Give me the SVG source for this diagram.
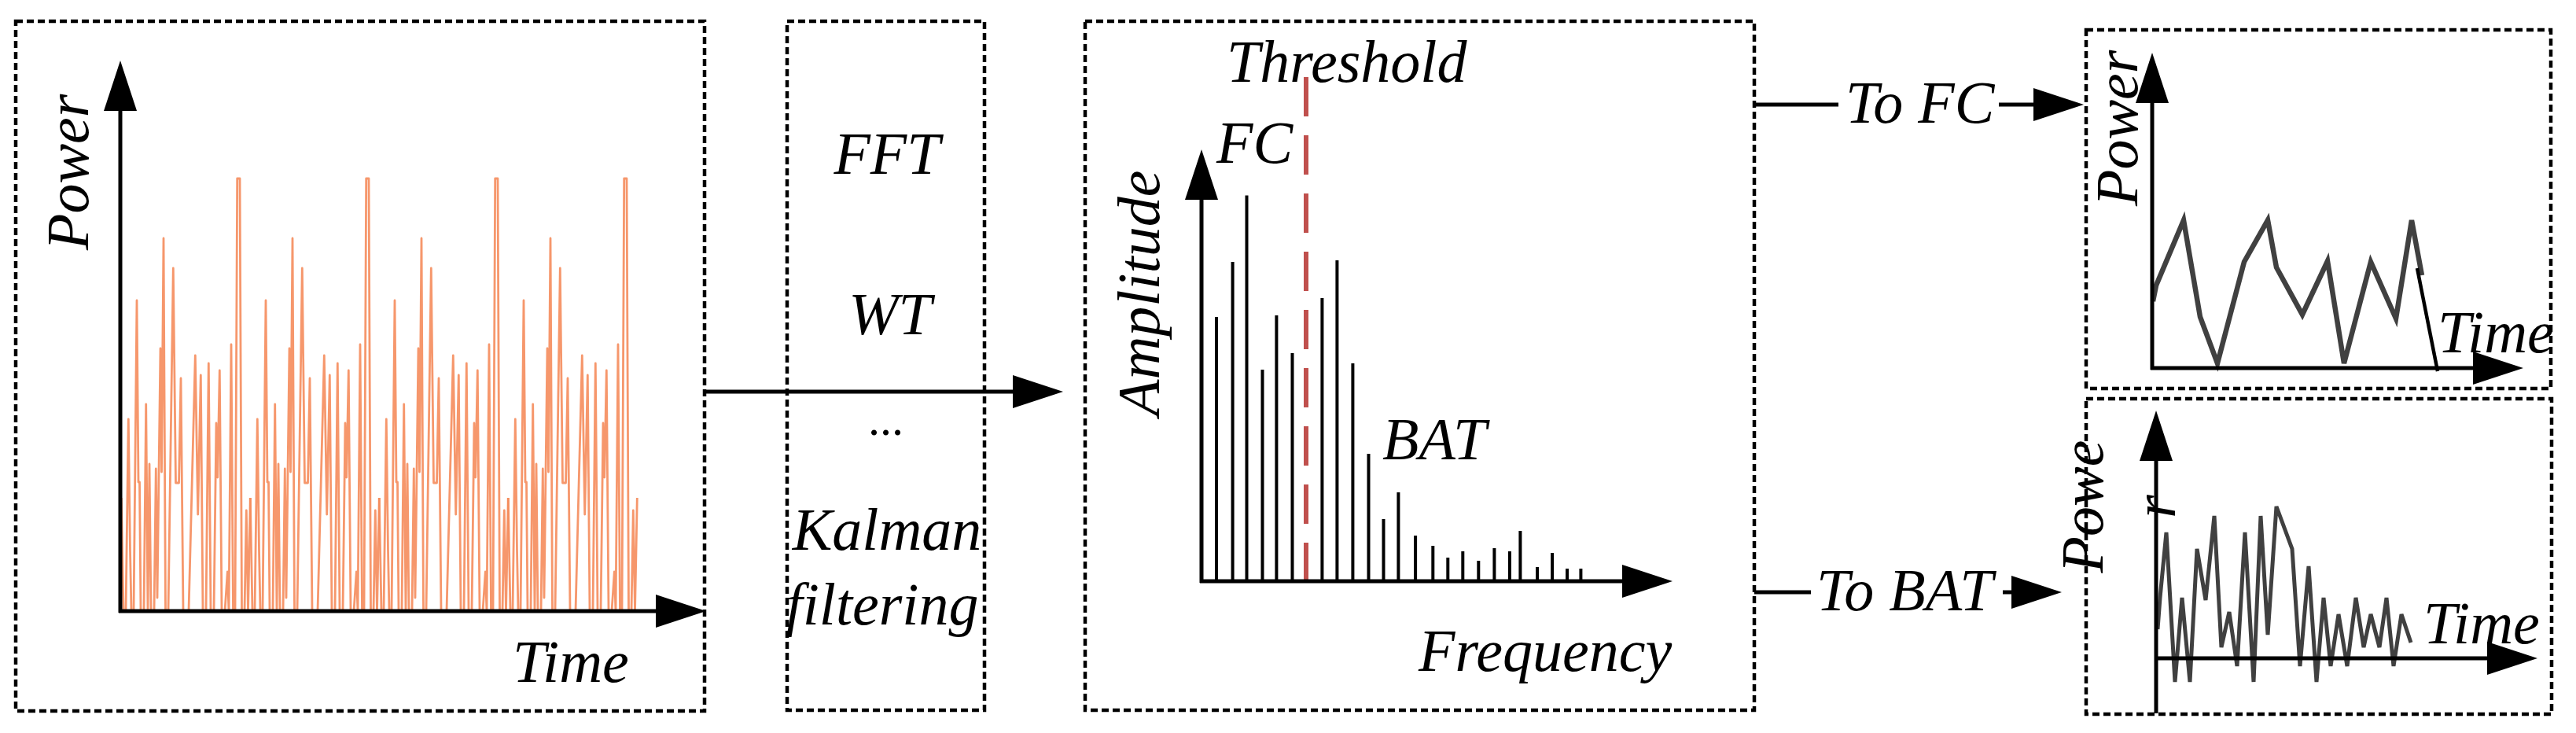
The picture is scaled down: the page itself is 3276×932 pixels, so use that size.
<svg xmlns="http://www.w3.org/2000/svg" xmlns:xlink="http://www.w3.org/1999/xlink" width="3276" height="932" viewBox="0 0 3276 932">
<style>
.box{fill:none;stroke:#000;stroke-width:4.5;stroke-dasharray:9 5}
.ax{fill:none;stroke:#000;stroke-width:5;marker-end:url(#ah)}
.ln{fill:none;stroke:#000;stroke-width:5}
.lbl{font-family:"Liberation Serif","Times New Roman",serif;font-style:italic;font-size:76px;fill:#000}
.sig{fill:none;stroke:#F58C5C;stroke-width:2.8;stroke-linejoin:round;stroke-opacity:0.9}
.gray{fill:none;stroke:#404040;stroke-width:6.5;stroke-linejoin:miter}
.bar{stroke:#000;stroke-width:4}
</style>
<defs>
<marker id="ah" markerUnits="userSpaceOnUse" markerWidth="66" markerHeight="44" refX="0" refY="22" orient="auto" viewBox="0 0 66 44" overflow="visible">
<path d="M0,1 L64,22 L0,43 z" fill="#000"/>
</marker>
<polyline id="period" class="sig" points="154.3,633 157,777 160,777 163.3,533 165.5,700 167,777 170,777 174,382 176,613 177.5,613 179,777 183,777 185.7,514 188,777 190,590 192,777 196,777 198.3,596 200,760 204,443 205.5,600 208,303 210.5,777 214,777 220.3,341 223.5,614 227.5,614 230,481 233,777 240,777 248.3,452 251.7,654 255.3,477 258,777 262,777 265.3,462 268,777 272,777 275,538 276.7,607 279.3,471 282,777 286,777 289.3,727 291,777 294,438 296.5,777 299,777 301.7,227 305,227 307.5,777 311,777 313.3,649 315.5,777 318.3,633"/>
</defs>

<g id="signal-box">
<rect class="box" x="20" y="27" width="876" height="877"/>
<use xlink:href="#period"/>
<use xlink:href="#period" transform="translate(164,0)"/>
<use xlink:href="#period" transform="translate(328,0)"/>
<use xlink:href="#period" transform="translate(492,0)"/>
<path class="ax" d="M153,779 V141"/>
<path class="ax" d="M151,777 H834"/>
<text class="lbl" transform="translate(112,318) rotate(-90)">Power</text>
<text class="lbl" x="652" y="867">Time</text>
</g>

<g id="methods-box">
<rect class="box" x="1001" y="27" width="251" height="876"/>
<text class="lbl" x="1128" y="221" text-anchor="middle">FFT</text>
<text class="lbl" x="1132" y="425" text-anchor="middle">WT</text>
<text class="lbl" x="1128" y="553" text-anchor="middle" style="font-size:60px">...</text>
<text class="lbl" x="1128" y="699" text-anchor="middle">Kalman</text>
<text class="lbl" x="1122" y="794" text-anchor="middle">filtering</text>
</g>

<g id="spectrum-box">
<rect class="box" x="1380" y="27" width="851" height="876"/>
<g class="bar">
<line x1="1547" y1="739" x2="1547" y2="403"/>
<line x1="1567.6" y1="739" x2="1567.6" y2="333"/>
<line x1="1585.5" y1="739" x2="1585.5" y2="248.5"/>
<line x1="1605.5" y1="739" x2="1605.5" y2="470"/>
<line x1="1623.4" y1="739" x2="1623.4" y2="401"/>
<line x1="1643.5" y1="739" x2="1643.5" y2="449"/>
<line x1="1660.8" y1="739" x2="1660.8" y2="696"/>
<line x1="1681.4" y1="739" x2="1681.4" y2="379"/>
<line x1="1700.4" y1="739" x2="1700.4" y2="331"/>
<line x1="1720.4" y1="739" x2="1720.4" y2="462"/>
<line x1="1740.5" y1="739" x2="1740.5" y2="577"/>
<line x1="1759.5" y1="739" x2="1759.5" y2="660"/>
<line x1="1778.4" y1="739" x2="1778.4" y2="626"/>
<line x1="1800.1" y1="739" x2="1800.1" y2="681"/>
<line x1="1822.3" y1="739" x2="1822.3" y2="694"/>
<line x1="1841.3" y1="739" x2="1841.3" y2="709"/>
<line x1="1860.3" y1="739" x2="1860.3" y2="701"/>
<line x1="1880.3" y1="739" x2="1880.3" y2="713"/>
<line x1="1900.4" y1="739" x2="1900.4" y2="697"/>
<line x1="1919.9" y1="739" x2="1919.9" y2="701"/>
<line x1="1933.4" y1="739" x2="1933.4" y2="675"/>
<line x1="1955.1" y1="739" x2="1955.1" y2="721"/>
<line x1="1974.1" y1="739" x2="1974.1" y2="703"/>
<line x1="1993" y1="739" x2="1993" y2="723"/>
<line x1="2010.4" y1="739" x2="2010.4" y2="723"/>
</g>
<line x1="1661" y1="98" x2="1661" y2="742" stroke="#C0504D" stroke-width="6" stroke-dasharray="50 24"/>
<path class="ax" d="M1528,741 V254"/>
<path class="ax" d="M1526,739 H2063"/>
<text class="lbl" x="1560" y="104">Threshold</text>
<text class="lbl" x="1547" y="207">FC</text>
<text class="lbl" x="1758" y="584">BAT</text>
<text class="lbl" transform="translate(1474,529) rotate(-90)">Amplitude</text>
<text class="lbl" x="1804" y="853">Frequency</text>
</g>

<g id="fc-box">
<rect class="box" x="2653" y="38" width="591" height="456"/>
<polyline class="gray" points="2738,383 2742,363 2777,280 2798,403 2820,462 2854,333 2884,280 2895,340 2928,400 2960,332 2981,462 3015,333 3047,405 3067,280 3080,350"/>
<line x1="3074" y1="341" x2="3100" y2="472" stroke="#000" stroke-width="4.5"/>
<path class="ax" d="M2737,470 V131"/>
<path class="ax" d="M2735,468 H3145"/>
<text class="lbl" transform="translate(2718,262) rotate(-90)">Power</text>
<text class="lbl" x="3100" y="448">Time</text>
</g>

<g id="bat-box">
<rect class="box" x="2653" y="507" width="592" height="401"/>
<polyline class="gray" style="stroke-width:5" points="2744,800 2747,760 2755,677 2766,867 2775,760 2785,867 2794,698 2805,763 2816,656 2825,823 2835,778 2845,847 2855,677 2866,867 2875,656 2884,807 2895,644 2915,698 2925,847 2936,720 2946,867 2955,760 2964,847 2974,781 2985,847 2996,760 3006,823 3015,781 3026,823 3035,760 3044,847 3054,781 3066,817"/>
<path class="ax" d="M2742,907 V586"/>
<path class="ax" d="M2740,837 H3163"/>
<text class="lbl" transform="translate(2674,644) rotate(-90)" text-anchor="middle">Powe</text>
<text class="lbl" transform="translate(2766,644) rotate(-90)" text-anchor="middle">r</text>
<text class="lbl" x="3082" y="818">Time</text>
</g>

<g id="connectors">
<path class="ax" d="M898,498 H1288"/>
<path class="ln" d="M2233,133 H2338"/>
<path class="ax" d="M2542,133 H2586"/>
<text class="lbl" x="2347" y="156">To FC</text>
<path class="ln" d="M2231,753 H2303"/>
<path class="ax" d="M2547,753 H2558"/>
<text class="lbl" x="2310" y="776">To BAT</text>
</g>
</svg>
